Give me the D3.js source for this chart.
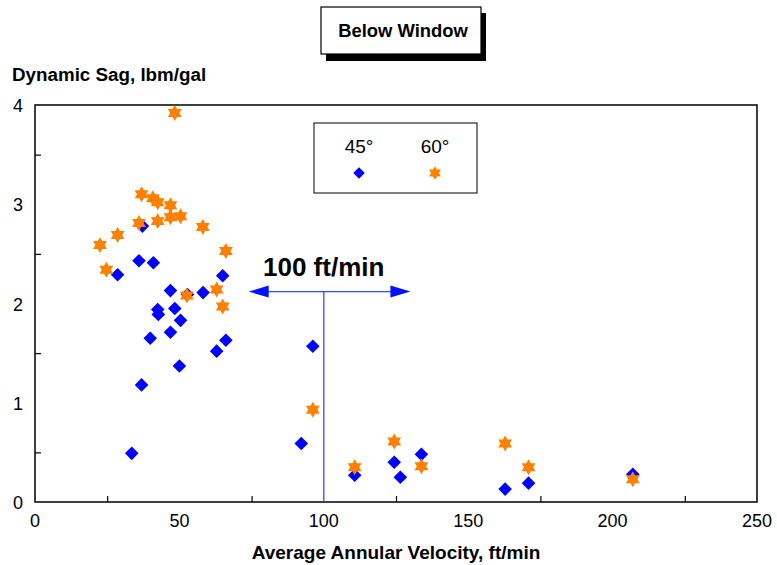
<!DOCTYPE html>
<html>
<head>
<meta charset="utf-8">
<script src="https://cdn.jsdelivr.net/npm/d3@7"></script>
<style>
  body { margin: 0; background: #fff; }
  text { font-family: "Liberation Sans", Arial, sans-serif; }
</style>
</head>
<body>
<div id="graph"></div>
<script>
// 45 degree series
const vel45 = [37.2, 36.0, 41.0, 28.6, 65.0, 46.9, 58.2, 52.8, 42.5, 42.7, 48.4, 50.4, 46.9, 39.9,
  66.1, 62.9, 50.0, 36.9, 33.5, 92.2, 96.2, 110.7, 124.4, 126.5, 133.8, 162.8, 170.9, 207.0];
const sag45 = [2.78, 2.43, 2.41, 2.29, 2.28, 2.13, 2.11, 2.09, 1.94, 1.89, 1.95, 1.83, 1.71, 1.65,
  1.63, 1.52, 1.37, 1.18, 0.49, 0.59, 1.57, 0.27, 0.40, 0.25, 0.48, 0.13, 0.19, 0.28];

// 60 degree series
const vel60 = [48.4, 36.9, 40.8, 42.5, 46.9, 36.0, 42.5, 46.9, 50.4, 58.1, 28.6, 22.5, 66.1, 24.7,
  62.9, 65.0, 52.6, 96.2, 110.7, 124.4, 133.8, 162.8, 170.9, 207.0];
const sag60 = [3.92, 3.10, 3.06, 3.02, 2.99, 2.81, 2.83, 2.87, 2.88, 2.77, 2.69, 2.59, 2.53, 2.34,
  2.14, 1.97, 2.08, 0.93, 0.35, 0.61, 0.36, 0.59, 0.35, 0.23];

const xLabels = [0, 50, 100, 150, 200, 250];
const xMinor = [25, 75, 125, 175, 225];
const yLabels = [0, 1, 2, 3, 4];
const yMinor = [0.5, 1.5, 2.5, 3.5];

// annotation: velocity line at 100 ft/min
const markVel = 100;
const markSag = 2.12;
const arrowFrom = 74;
const arrowTo = 130;

const fullwidth = 777;
const fullheight = 565;

const xScale = d3.scaleLinear().
domain([0, 250]).
range([35, 757]);

const yScale = d3.scaleLinear().
domain([0, 4]).
range([502, 105]);

const svg = d3.select("#graph").
append("svg").
attr("width", fullwidth).
attr("height", fullheight);

// title box with shadow
svg.append("rect").
attr("x", 326).attr("y", 13).
attr("width", 160).attr("height", 48).
attr("fill", "#000");
svg.append("rect").
attr("x", 321).attr("y", 7).
attr("width", 160).attr("height", 47).
attr("fill", "#fff").
attr("stroke", "#000").
attr("stroke-width", 1.2);
svg.append("text").
attr("x", 403).attr("y", 37).
attr("text-anchor", "middle").
attr("font-size", 18.4).
attr("font-weight", "bold").
text("Below Window");

// axis labels
svg.append("text").
attr("x", 12).attr("y", 81).
attr("font-size", 18.8).
attr("font-weight", "bold").
text("Dynamic Sag, lbm/gal");

svg.append("text").
attr("x", 396).attr("y", 559).
attr("text-anchor", "middle").
attr("font-size", 19).
attr("font-weight", "bold").
text("Average Annular Velocity, ft/min");

// minor ticks (inside)
const xAxis = d3.axisBottom(xScale).tickValues(xMinor).tickSize(-6).tickFormat("");
const yAxis = d3.axisLeft(yScale).tickValues(yMinor).tickSize(-6).tickFormat("");

svg.append("g").
attr("id", "x-axis").
attr("transform", "translate(0," + yScale(0) + ")").
call(xAxis).
call(g => g.select(".domain").remove());

svg.append("g").
attr("id", "y-axis").
attr("transform", "translate(" + xScale(0) + ",0)").
call(yAxis).
call(g => g.select(".domain").remove());

svg.selectAll(".tick line").attr("stroke", "#000").attr("stroke-width", 1.2);

// tick labels
svg.selectAll(".xlab").
data(xLabels).
enter().
append("text").
attr("class", "xlab").
attr("x", d => xScale(d)).
attr("y", yScale(0) + 25).
attr("text-anchor", "middle").
attr("font-size", 18).
text(d => d);

svg.selectAll(".ylab").
data(yLabels).
enter().
append("text").
attr("class", "ylab").
attr("x", 23).
attr("y", d => yScale(d) + 7).
attr("text-anchor", "end").
attr("font-size", 18).
text(d => d);

// plot frame
svg.append("rect").
attr("x", xScale(0)).
attr("y", yScale(4)).
attr("width", xScale(250) - xScale(0)).
attr("height", yScale(0) - yScale(4)).
attr("fill", "none").
attr("stroke", "#000").
attr("stroke-width", 1.5);

// marker shapes
const diamond = "M0,-6.8L6.8,0L0,6.8L-6.8,0Z";
function hexagram(ro, ri) {
  const pts = [];
  for (let i = 0; i < 12; ++i) {
    const a = Math.PI / 6 * i - Math.PI / 2;
    const r = i % 2 === 0 ? ro : ri;
    pts.push([r * Math.cos(a), r * Math.sin(a)]);
  }
  return "M" + pts.join("L") + "Z";
}
const star = hexagram(8, 4.6);

// annotation lines
const annColor = "#3a46ff";
svg.append("line").
attr("x1", xScale(markVel)).attr("x2", xScale(markVel)).
attr("y1", yScale(markSag)).attr("y2", yScale(0)).
attr("stroke", annColor).
attr("stroke-width", 1.3);
svg.append("line").
attr("x1", xScale(arrowFrom) + 14).attr("x2", xScale(arrowTo) - 14).
attr("y1", yScale(markSag)).attr("y2", yScale(markSag)).
attr("stroke", annColor).
attr("stroke-width", 1.3);
svg.append("path").
attr("d", "M" + xScale(arrowFrom) + "," + yScale(markSag) +
  "L" + (xScale(arrowFrom) + 20) + "," + (yScale(markSag) - 6) +
  "L" + (xScale(arrowFrom) + 20) + "," + (yScale(markSag) + 6) + "Z").
attr("fill", "#0011ff");
svg.append("path").
attr("d", "M" + xScale(arrowTo) + "," + yScale(markSag) +
  "L" + (xScale(arrowTo) - 20) + "," + (yScale(markSag) - 6) +
  "L" + (xScale(arrowTo) - 20) + "," + (yScale(markSag) + 6) + "Z").
attr("fill", "#0011ff");
svg.append("text").
attr("x", 263).attr("y", 276).
attr("font-size", 26).
attr("font-weight", "bold").
text("100 ft/min");

// points
svg.selectAll(".p45").
data(vel45).
enter().
append("path").
attr("class", "p45").
attr("d", diamond).
attr("transform", (d, i) => "translate(" + xScale(d) + "," + yScale(sag45[i]) + ")").
attr("fill", "#0000ff");

svg.selectAll(".p60").
data(vel60).
enter().
append("path").
attr("class", "p60").
attr("d", star).
attr("transform", (d, i) => "translate(" + xScale(d) + "," + yScale(sag60[i]) + ")").
attr("fill", "#ff8000");

// legend
svg.append("rect").
attr("x", 314).attr("y", 123).
attr("width", 163).attr("height", 70).
attr("fill", "#fff").
attr("stroke", "#000").
attr("stroke-width", 1);
svg.append("text").
attr("x", 359).attr("y", 153).
attr("text-anchor", "middle").
attr("font-size", 19).
text("45°");
svg.append("text").
attr("x", 435).attr("y", 153).
attr("text-anchor", "middle").
attr("font-size", 19).
text("60°");
svg.append("path").
attr("d", diamond).
attr("transform", "translate(359,173) scale(0.85)").
attr("fill", "#0000ff");
svg.append("path").
attr("d", star).
attr("transform", "translate(435,173) scale(0.85)").
attr("fill", "#ff8000");
</script>
</body>
</html>
